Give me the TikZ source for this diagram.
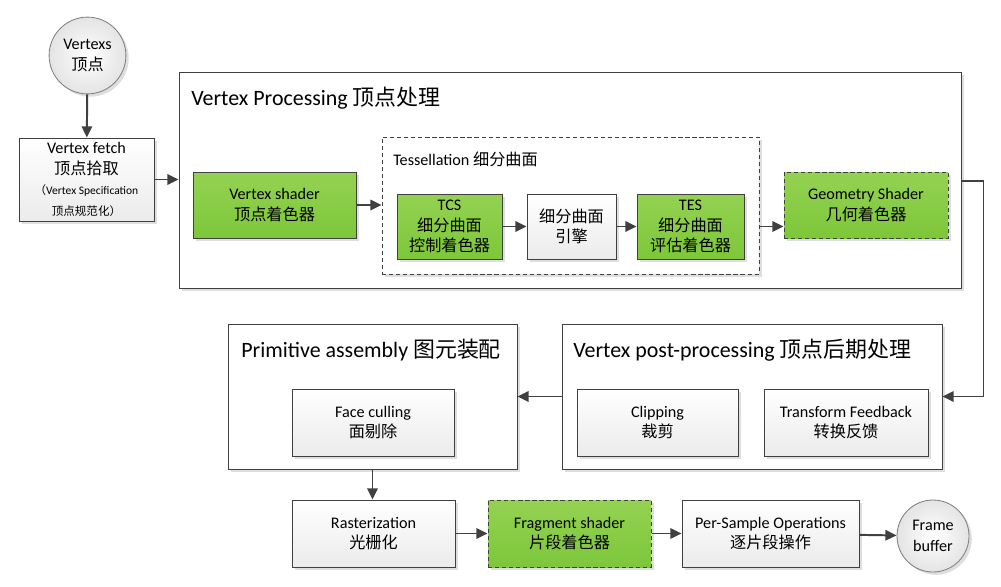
\documentclass[tikz,border=0pt]{standalone}
\usepackage{fontspec}
\setmainfont{Carlito}
\newfontfamily\zhfont{Noto Sans CJK SC}
\usepackage{xcolor}
\usepackage{tikz}
\usetikzlibrary{arrows.meta, shadows}

\definecolor{linegray}{HTML}{404040}
\definecolor{greentop}{HTML}{94D252}
\definecolor{greenbot}{HTML}{7DC73A}
\definecolor{graybot}{HTML}{EBEBEB}
\definecolor{shadowgray}{HTML}{DEDEDE}
\definecolor{circleedge}{HTML}{E4E4E4}

\newcommand{\bodyfont}{\fontsize{11.5}{14.5}\selectfont}
\newcommand{\titlefont}{\fontsize{15.6}{18}\selectfont}
\newcommand{\smallfont}{\fontsize{8.2}{14}\selectfont}
\newcommand{\zh}[1]{{\zhfont #1}}

\tikzset{
    boxshadow/.style={drop shadow={shadow xshift=0.07cm, shadow yshift=-0.07cm, fill=shadowgray, opacity=1}},
    graybox/.style={draw=linegray, line width=0.7pt, top color=white, bottom color=graybot,
        boxshadow, align=center, font=\bodyfont, inner sep=0pt},
    greenbox/.style={graybox, top color=greentop, bottom color=greenbot},
    dashgreen/.style={greenbox, dash pattern=on 3pt off 2pt},
    groupbox/.style={draw=linegray, line width=0.7pt, fill=white, boxshadow, inner sep=0pt},
    tessbox/.style={draw=linegray, line width=0.7pt, dash pattern=on 3pt off 2pt, fill=white,
        boxshadow, inner sep=0pt},
    endpoint/.style={circle, draw=gray, line width=0.6pt, inner color=white, outer color=circleedge,
        boxshadow, align=center, font=\bodyfont, inner sep=0pt},
    grouptitle/.style={anchor=west, font=\titlefont, inner sep=0pt},
    flow/.style={draw=linegray, line width=1.4pt, -{Triangle[length=0.28cm, width=0.26cm]}},
}

\begin{document}
\begin{tikzpicture}

    \useasboundingbox (0,0) rectangle (25.025,-14.65);

    % ==========================================
    % Input (top left)
    % ==========================================
    \node[endpoint, minimum size=1.92cm] (vertexs) at (2.1875,-1.3875) {Vertexs\\\zh{顶点}};
    \node[graybox, minimum width=3.375cm, minimum height=2.075cm] (fetch) at (2.1625,-4.4875)
        {Vertex fetch\\\zh{顶点拾取}\\\smallfont \zh{（}Vertex Specification\\\smallfont\zh{顶点规范化）}};

    % ==========================================
    % Vertex Processing group
    % ==========================================
    \node[groupbox, minimum width=19.55cm, minimum height=5.4cm] (proc) at (14.25,-4.5) {};
    \node[grouptitle] (proctitle) at (4.775,-2.45) {Vertex Processing \zh{顶点处理}};

    \node[greenbox, minimum width=4.075cm, minimum height=1.65cm] (vshader) at (6.8625,-5.125)
        {Vertex shader\\\zh{顶点着色器}};

    % Tessellation (dashed)
    \node[tessbox, minimum width=9.425cm, minimum height=3.425cm] (tess) at (14.2625,-5.1375) {};
    \node[grouptitle, font=\bodyfont] (tesstitle) at (9.825,-3.975) {Tessellation \zh{细分曲面}};
    \node[greenbox, minimum width=2.625cm, minimum height=1.625cm] (tcs) at (11.2375,-5.6625)
        {TCS\\\zh{细分曲面}\\\zh{控制着色器}};
    \node[graybox, minimum width=2.225cm, minimum height=1.625cm] (engine) at (14.2875,-5.6625)
        {\zh{细分曲面}\\\zh{引擎}};
    \node[greenbox, minimum width=2.675cm, minimum height=1.625cm] (tes) at (17.2625,-5.6625)
        {TES\\\zh{细分曲面}\\\zh{评估着色器}};

    \node[dashgreen, minimum width=4.1cm, minimum height=1.65cm] (gshader) at (21.65,-5.125)
        {Geometry Shader\\\zh{几何着色器}};

    % ==========================================
    % Post-processing and primitive assembly
    % ==========================================
    \node[groupbox, minimum width=9.5cm, minimum height=3.625cm] (post) at (18.8,-9.9125) {};
    \node[grouptitle] (posttitle) at (14.325,-8.75) {Vertex post-processing \zh{顶点后期处理}};
    \node[graybox, minimum width=4.025cm, minimum height=1.675cm] (clip) at (16.4375,-10.5625)
        {Clipping\\\zh{裁剪}};
    \node[graybox, minimum width=4.1cm, minimum height=1.675cm] (feedback) at (21.15,-10.5625)
        {Transform Feedback\\\zh{转换反馈}};

    \node[groupbox, minimum width=7.225cm, minimum height=3.625cm] (prim) at (9.3125,-9.9125) {};
    \node[grouptitle] (primtitle) at (6.025,-8.75) {Primitive assembly \zh{图元装配}};
    \node[graybox, minimum width=4.05cm, minimum height=1.675cm] (cull) at (9.325,-10.5625)
        {Face culling\\\zh{面剔除}};

    % ==========================================
    % Bottom row
    % ==========================================
    \node[graybox, minimum width=4.075cm, minimum height=1.675cm] (raster) at (9.3375,-13.3375)
        {Rasterization\\\zh{光栅化}};
    \node[dashgreen, minimum width=4.075cm, minimum height=1.675cm] (fshader) at (14.2375,-13.3375)
        {Fragment shader\\\zh{片段着色器}};
    \node[graybox, minimum width=4.425cm, minimum height=1.675cm] (persample) at (19.2625,-13.3375)
        {Per-Sample Operations\\\zh{逐片段操作}};
    \node[endpoint, minimum size=1.8cm] (framebuf) at (23.325,-13.4) {Frame\\buffer};

    % ==========================================
    % Connectors
    % ==========================================
    \draw[flow] (vertexs) -- (fetch);
    \draw[flow] (fetch.east) -- (fetch.east -| proc.west);
    \draw[flow] (vshader.east) -- (vshader.east -| tess.west);
    \draw[flow] (tcs) -- (engine);
    \draw[flow] (engine) -- (tes);
    \draw[flow] (tes.east -| tess.east) -- (tes.east -| gshader.west);
    \draw[flow] ([yshift=-0.025cm]proc.east) -- ++(0.55,0) |- (post.east);
    \draw[flow] (post) -- (prim);
    \draw[flow] (prim.south) -- (prim.south |- raster.north);
    \draw[flow] (raster) -- (fshader);
    \draw[flow] (fshader) -- (persample);
    \draw[flow] (persample) -- (framebuf);

\end{tikzpicture}
\end{document}
